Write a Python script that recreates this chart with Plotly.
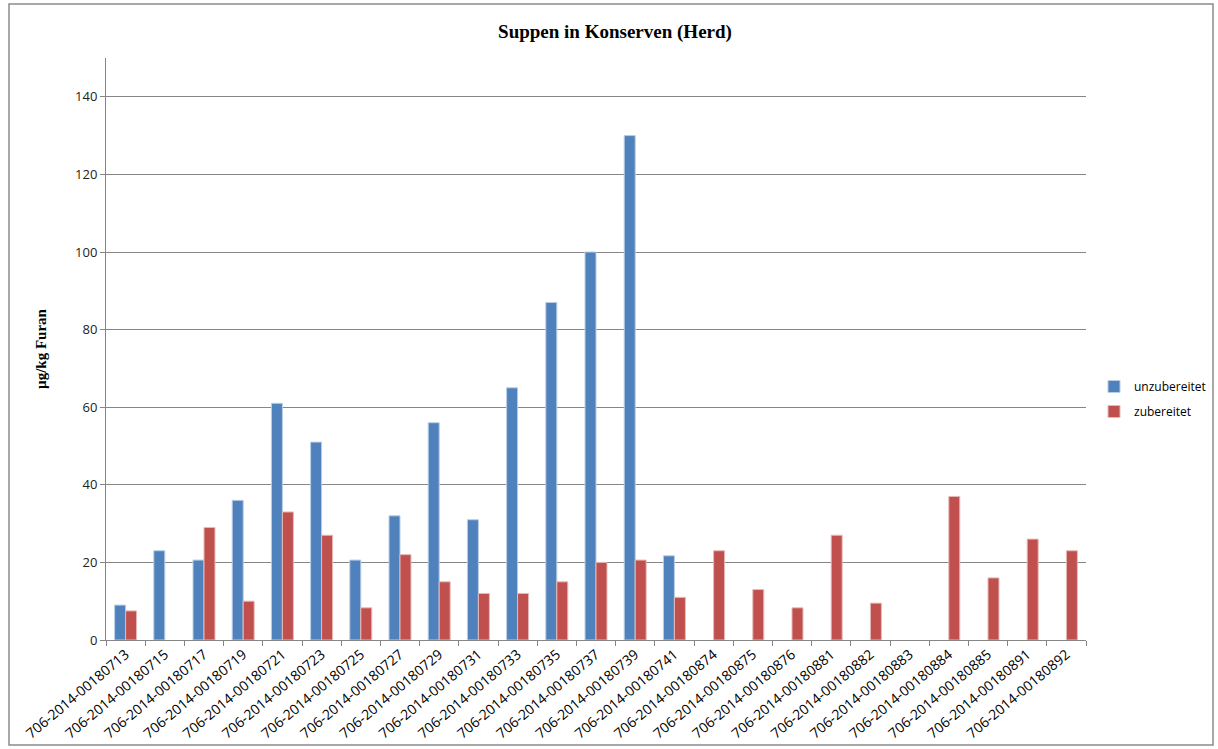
import plotly.graph_objects as go

# Sample IDs and furan levels (µg/kg)
samples = [
    "706-2014-00180713", "706-2014-00180715", "706-2014-00180717", "706-2014-00180719",
    "706-2014-00180721", "706-2014-00180723", "706-2014-00180725", "706-2014-00180727",
    "706-2014-00180729", "706-2014-00180731", "706-2014-00180733", "706-2014-00180735",
    "706-2014-00180737", "706-2014-00180739", "706-2014-00180741", "706-2014-00180874",
    "706-2014-00180875", "706-2014-00180876", "706-2014-00180881", "706-2014-00180882",
    "706-2014-00180883", "706-2014-00180884", "706-2014-00180885", "706-2014-00180891",
    "706-2014-00180892",
]
unzubereitet = [9, 23, 20.6, 36, 61, 51, 20.6, 32, 56, 31, 65, 87, 100, 130, 21.7,
                None, None, None, None, None, None, None, None, None, None]
zubereitet = [7.5, None, 29, 10, 33, 27, 8.3, 22, 15, 12, 12, 15, 20, 20.6, 11,
              23, 13, 8.3, 27, 9.5, None, 37, 16, 26, 23]
y_ticks = [0, 20, 40, 60, 80, 100, 120, 140]

W, H = 1218, 749
ML, MR, MT, MB = 106, 132, 58, 109
pw, ph = W - ML - MR, H - MT - MB

fig = go.Figure()
fig.add_trace(go.Bar(
    name="unzubereitet", x=samples, y=unzubereitet, legendgroup="a",
    marker=dict(color="#4F81BD", line=dict(color="#B9CDE5", width=1)),
))
fig.add_trace(go.Bar(
    name="zubereitet", x=samples, y=zubereitet, legendgroup="b",
    marker=dict(color="#C0504D", line=dict(color="#E6B9B8", width=1)),
))


def px_x(p):
    return (p - ML) / pw


def px_y(p):
    return (H - MB - p) / ph


# outer chart frame
fig.add_shape(type="rect", xref="paper", yref="paper",
              x0=px_x(9), x1=px_x(1213), y0=px_y(745), y1=px_y(4),
              line=dict(color="#8C8C8C", width=1.5), fillcolor="rgba(0,0,0,0)",
              layer="below")

fig.update_layout(
    width=W, height=H,
    margin=dict(l=ML, r=MR, t=MT, b=MB, autoexpand=False),
    paper_bgcolor="white", plot_bgcolor="white",
    barmode="group", bargap=0.44, bargroupgap=0,
    title=dict(text="<b>Suppen in Konserven (Herd)</b>", x=615 / W, xanchor="center",
               y=1 - 31 / H, yanchor="middle",
               font=dict(family="Liberation Serif", size=19, color="black")),
    font=dict(family="Open Sans", size=12, color="black"),
    legend=dict(x=px_x(1094), y=px_y(372), xanchor="left", yanchor="top",
                font=dict(family="Open Sans", size=12, color="black"),
                itemwidth=30, tracegroupgap=6, bgcolor="rgba(0,0,0,0)"),
    showlegend=True,
)
fig.update_xaxes(
    type="category", tickangle=-40, showgrid=False,
    showline=True, linecolor="#868686", linewidth=1,
    ticks="outside", tickson="boundaries", ticklen=5, tickcolor="#868686",
    tickfont=dict(family="Open Sans", size=14, color="black"),
)
fig.update_yaxes(
    range=[0, 150], tickvals=y_ticks, showgrid=True, gridcolor="#868686", gridwidth=1,
    showline=True, linecolor="#868686", linewidth=1, zeroline=False,
    ticks="outside", ticklen=5, tickcolor="#868686",
    tickfont=dict(family="Open Sans", size=13, color="#222222"),
    title=dict(text="<b>µg/kg Furan</b>", standoff=24,
               font=dict(family="Liberation Serif", size=15, color="black")),
)

fig.write_html("out.html")
